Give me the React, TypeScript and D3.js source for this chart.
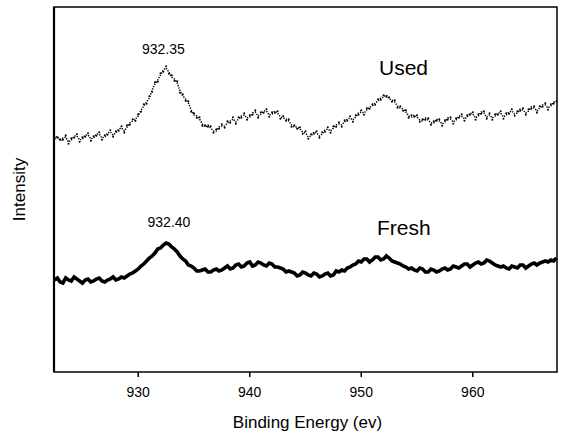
import React from "react";
import * as d3 from "d3";

// Cu 2p XPS spectra, sampled every 0.25 eV from 922.5 eV
const energyStart = 922.5;
const energyStep = 0.25;

// Used catalyst (counts, arbitrary units)
const usedCounts = [
  233, 236, 231, 234, 235, 230, 232, 236, 236, 232, 233, 237, 237, 233, 234, 238, 238, 234, 235, 239,
  240, 237, 239, 243, 244, 241, 245, 249, 251, 253, 256, 262, 266, 270, 274, 282, 288, 292, 297, 302,
  304, 300, 295, 293, 289, 281, 276, 273, 269, 262, 257, 256, 253, 248, 245, 247, 244, 241, 241, 245,
  246, 246, 249, 251, 253, 250, 253, 256, 257, 254, 255, 259, 260, 256, 258, 261, 261, 257, 258, 261,
  259, 255, 254, 253, 251, 247, 245, 245, 243, 240, 239, 235, 236, 240, 239, 236, 238, 242, 243, 241,
  244, 247, 248, 247, 250, 253, 254, 252, 255, 259, 260, 259, 262, 265, 266, 269, 271, 274, 275, 277,
  273, 272, 270, 266, 264, 263, 260, 256, 255, 257, 255, 252, 251, 254, 252, 249, 249, 253, 251, 248,
  250, 254, 253, 250, 252, 256, 256, 253, 255, 259, 258, 254, 256, 260, 259, 255, 257, 254, 256, 259,
  259, 255, 257, 260, 261, 258, 259, 263, 262, 259, 261, 265, 264, 261, 264, 267, 267, 264, 266, 270,
  269,
];

// Fresh catalyst (counts, arbitrary units)
const freshCounts = [
  92, 94, 90, 89, 94, 92, 91, 95, 93, 91, 89, 92, 93, 90, 91, 93, 94, 91, 90, 92,
  93, 95, 92, 93, 95, 94, 96, 98, 99, 101, 103, 106, 108, 111, 114, 116, 119, 123, 124, 127,
  129, 128, 125, 123, 120, 116, 113, 111, 107, 106, 104, 101, 101, 102, 103, 100, 100, 102, 103, 101,
  102, 104, 106, 103, 104, 107, 108, 105, 106, 109, 110, 106, 107, 110, 109, 107, 106, 109, 108, 105,
  105, 104, 103, 100, 101, 100, 99, 96, 97, 100, 99, 97, 96, 99, 98, 95, 96, 98, 99, 96,
  97, 101, 100, 102, 101, 104, 105, 107, 108, 111, 110, 113, 113, 110, 112, 115, 115, 112, 113, 116,
  114, 111, 110, 109, 108, 106, 105, 103, 104, 102, 101, 104, 103, 100, 100, 103, 102, 100, 101, 103,
  104, 102, 103, 106, 105, 104, 106, 108, 108, 105, 107, 109, 110, 108, 109, 112, 111, 109, 107, 106,
  105, 106, 104, 103, 106, 105, 104, 107, 107, 104, 106, 108, 109, 107, 109, 110, 111, 110, 112, 111,
  114,
];

const xTicks = [930, 940, 950, 960];
const usedPeak = 932.35;
const freshPeak = 932.4;

const W = 564;
const H = 434;
const left = 54;
const right = 557;
const top = 7;
const bottom = 372;

export default function App() {
  const x = d3.scaleLinear().domain([922.45, 967.55]).range([left, right]);
  const y = d3.scaleLinear().domain([0, 365]).range([bottom, top]);

  const toPoints = (arr: number[]) =>
    arr.map((v, i) => ({ e: energyStart + i * energyStep, v }));

  const used = toPoints(usedCounts);
  const fresh = toPoints(freshCounts);

  const line = d3
    .line<{ e: number; v: number }>()
    .x((d) => x(d.e))
    .y((d) => y(d.v));

  const font = "Liberation Sans, Arial, sans-serif";

  return (
    <svg
      width={W}
      height={H}
      style={{ position: "absolute", left: 0, top: 0, background: "#fff" }}
      fontFamily={font}
    >
      <rect x={0} y={0} width={W} height={H} fill="#fff" />

      {/* used spectrum: dotted scatter */}
      <path
        d={line(used) ?? ""}
        fill="none"
        stroke="#000"
        strokeWidth={1.5}
        strokeDasharray="1.3 1.3"
      />
      {used.map((d, i) => (
        <circle key={i} cx={x(d.e)} cy={y(d.v) + (i % 2 ? 1.8 : -1.8)} r={1} fill="#000" />
      ))}

      {/* fresh spectrum: heavy line */}
      <path
        d={line(fresh) ?? ""}
        fill="none"
        stroke="#000"
        strokeWidth={3.6}
        strokeLinejoin="miter"
      />

      {/* frame */}
      <rect
        x={left}
        y={top}
        width={right - left}
        height={bottom - top}
        fill="none"
        stroke="#000"
        strokeWidth={1.5}
      />
      <line x1={left} x2={left} y1={top} y2={bottom} stroke="#000" strokeWidth={2.2} />

      {/* x axis ticks */}
      {xTicks.map((t) => (
        <g key={t}>
          <line x1={x(t)} x2={x(t)} y1={bottom} y2={bottom + 5} stroke="#000" strokeWidth={1.5} />
          <text x={x(t)} y={397} textAnchor="middle" fontSize={14} fill="#000">
            {t}
          </text>
        </g>
      ))}

      <text x={(left + right) / 2 + 2} y={428} textAnchor="middle" fontSize={17} fill="#000">
        Binding Energy (ev)
      </text>
      <text
        transform={`translate(25, ${(top + bottom) / 2}) rotate(-90)`}
        textAnchor="middle"
        fontSize={17}
        fill="#000"
      >
        Intensity
      </text>

      {/* peak positions */}
      <text x={x(usedPeak) - 1} y={54} textAnchor="middle" fontSize={14} fill="#000">
        {usedPeak.toFixed(2)}
      </text>
      <text x={x(freshPeak) + 4} y={227} textAnchor="middle" fontSize={14} fill="#000">
        {freshPeak.toFixed(2)}
      </text>

      <text x={379} y={75} fontSize={21} fill="#000">
        Used
      </text>
      <text x={377} y={235} fontSize={21} fill="#000">
        Fresh
      </text>
    </svg>
  );
}
